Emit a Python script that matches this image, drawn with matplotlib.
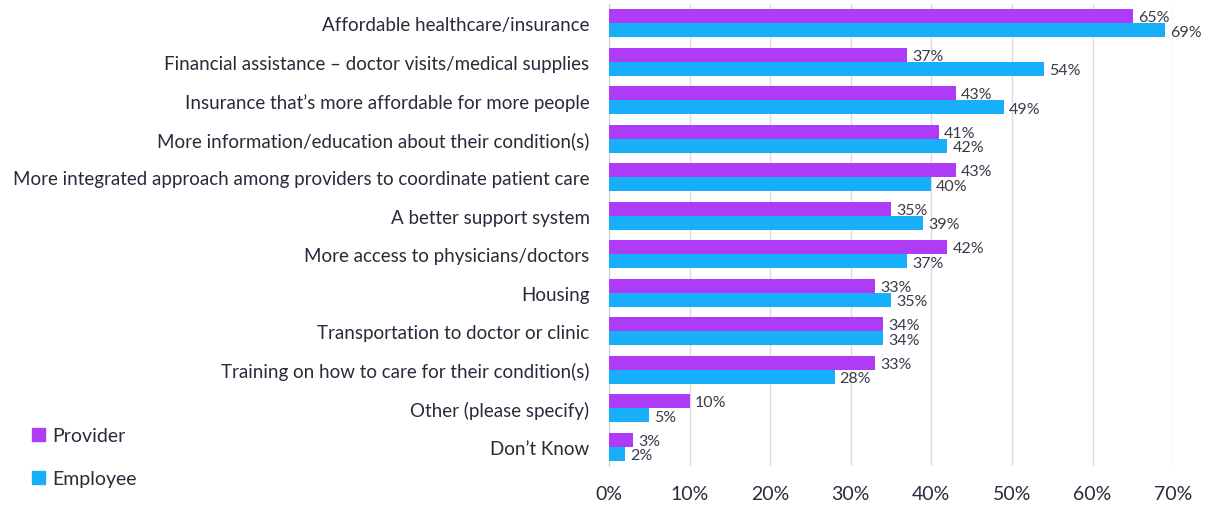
import matplotlib.pyplot as plt
import numpy as np
from matplotlib.patches import Patch

categories = ['Affordable healthcare/insurance',
              'Financial assistance \u2013 doctor visits/medical supplies',
              'Insurance that\u2019s more affordable for more people',
              'More information/education about their condition(s)',
              'More integrated approach among providers to coordinate patient care',
              'A better support system',
              'More access to physicians/doctors',
              'Housing',
              'Transportation to doctor or clinic',
              'Training on how to care for their condition(s)',
              'Other (please specify)',
              'Don\u2019t Know']
provider = [65, 37, 43, 41, 43, 35, 42, 33, 34, 33, 10, 3]
employee = [69, 54, 49, 42, 40, 39, 37, 35, 34, 28, 5, 2]

purple = '#AE3BF6'
blue = '#17AFFA'
plt.rcParams['font.family'] = ['Lato', 'DejaVu Sans']

fig = plt.figure(figsize=(12.07, 5.06), dpi=100)
ax = fig.add_axes([0.5046, 0.077, 0.4673, 0.913])

y = np.arange(len(categories))
h = 0.365
p = np.array(provider) / 100
e = np.array(employee) / 100
ax.barh(y - h / 2, p, height=h, color=purple, zorder=3)
ax.barh(y + h / 2, e, height=h, color=blue, zorder=3)

for i in range(len(categories)):
    ax.text(p[i] + 0.006, y[i] - h / 2 + 0.02, '%d%%' % provider[i], va='center', ha='left',
            fontsize=11.5, color='#3a3a4a', zorder=4)
    ax.text(e[i] + 0.006, y[i] + h / 2 + 0.04, '%d%%' % employee[i], va='center', ha='left',
            fontsize=11.5, color='#3a3a4a', zorder=4)

ax.set_ylim(len(categories) - 0.5, -0.5)
ax.set_xlim(0, 0.7)
ax.set_yticks(y)
ax.set_yticklabels(categories, fontsize=13.5, color='#2a2a3a')
ax.set_xticks(np.arange(0, 0.71, 0.1))
ax.set_xticklabels(['%d%%' % v for v in range(0, 71, 10)], fontsize=14, color='#2a2a3a')
ax.tick_params(length=0)
ax.tick_params(axis='y', pad=14)
ax.tick_params(axis='x', pad=14)
ax.grid(axis='x', color='#dcdcdc', linewidth=1, zorder=0)
for s in ['top', 'right', 'bottom']:
    ax.spines[s].set_visible(False)
ax.spines['left'].set_color('#d0d0d0')

handles = [Patch(color=purple), Patch(color=blue)]
fig.legend(handles, ['Provider', 'Employee'], loc='lower left', bbox_to_anchor=(0.012, 0.0),
           frameon=False, fontsize=14, handlelength=0.65, handleheight=0.65,
           handletextpad=0.4, labelspacing=1.35, labelcolor='#2a2a3a')

fig.savefig('out.png', dpi=100)
